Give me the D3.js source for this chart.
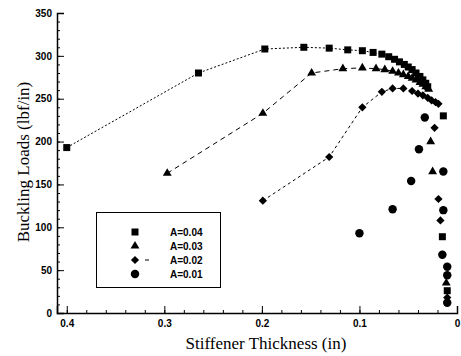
<!DOCTYPE html>
<html>
<head>
<meta charset="utf-8">
<script src="https://cdn.jsdelivr.net/npm/d3@7"></script>
<style>
  body { margin: 0; background: #fff; }
  svg { display: block; }
</style>
</head>
<body>
<div id="chart"></div>
<script>
// data
const seriesNames = ["A=0.04", "A=0.03", "A=0.02", "A=0.01"];

const thickA04 = [0.4, 0.265, 0.197, 0.157, 0.131, 0.112, 0.097, 0.086, 0.077, 0.070, 0.064, 0.059, 0.054, 0.050, 0.046, 0.042, 0.038, 0.035, 0.032, 0.030, 0.014, 0.015, 0.010];
const loadA04  = [193, 280, 308, 310, 309, 307, 306, 304, 302, 299, 296, 293, 290, 287, 284, 280, 276, 272, 268, 264, 230, 89, 26];

const thickA03 = [0.297, 0.199, 0.149, 0.117, 0.097, 0.083, 0.074, 0.066, 0.060, 0.055, 0.050, 0.046, 0.042, 0.038, 0.035, 0.032, 0.029, 0.027, 0.025, 0.011];
const loadA03  = [163, 233, 280, 285, 286, 285, 284, 282, 280, 278, 276, 274, 272, 269, 267, 264, 261, 200, 165, 35];

const thickA02 = [0.199, 0.131, 0.097, 0.077, 0.066, 0.055, 0.046, 0.040, 0.035, 0.030, 0.026, 0.022, 0.019, 0.023, 0.019, 0.017, 0.015, 0.010];
const loadA02  = [131, 182, 240, 258, 262, 262, 259, 256, 254, 251, 248, 246, 244, 216, 133, 108, 68, 18];

const thickA01 = [0.100, 0.066, 0.047, 0.039, 0.033, 0.014, 0.014, 0.015, 0.010, 0.010, 0.010];
const loadA01  = [93, 121, 154, 191, 228, 165, 120, 68, 54, 44, 12];

const yTicks = [0, 50, 100, 150, 200, 250, 300, 350];
const xTicks = [0.4, 0.3, 0.2, 0.1, 0];
const xTickLabels = ["0.4", "0.3", "0.2", "0.1", "0"];

function drawPlot() {
  const width = 461, height = 356;
  const margin = { top: 13, right: 4, bottom: 43, left: 57 };
  const boundedWidth = width - margin.left - margin.right;
  const boundedHeight = height - margin.top - margin.bottom;

  const zip = (xs, ys) => xs.map((x, i) => ({ x: x, y: ys[i] }));
  // lineTo: how many of the points the connecting line runs through
  const series = [
    { name: seriesNames[0], pts: zip(thickA04, loadA04), lineTo: 20, shape: d3.symbolSquare, size: 49, rot: 0, dash: "2,2" },
    { name: seriesNames[1], pts: zip(thickA03, loadA03), lineTo: 17, shape: d3.symbolTriangle, size: 34, rot: 0, dash: "5,4" },
    { name: seriesNames[2], pts: zip(thickA02, loadA02), lineTo: 13, shape: d3.symbolSquare, size: 34, rot: 45, dash: "3,3" },
    { name: seriesNames[3], pts: zip(thickA01, loadA01), lineTo: 0, shape: d3.symbolCircle, size: 56, rot: 0, dash: null },
  ];

  const svg = d3.select("#chart").append("svg")
      .attr("width", width)
      .attr("height", height);

  const bounds = svg.append("g")
      .attr("transform", `translate(${margin.left}, ${margin.top})`);

  const xScale = d3.scaleLinear()
    .domain([0.41, 0])
    .range([0, boundedWidth]);

  const yScale = d3.scaleLinear()
    .domain([0, 350])
    .range([boundedHeight, 0]);

  // axes
  const tickFont = "'Liberation Sans', Arial, sans-serif";

  bounds.append("g")
      .call(d3.axisLeft(yScale).tickValues(d3.range(0, 351, 10)).tickSize(-3).tickFormat(""))
      .call(g => g.select(".domain").remove());
  bounds.append("g")
      .call(d3.axisLeft(yScale).tickValues(yTicks).tickSize(-7).tickPadding(5))
      .call(g => g.select(".domain").attr("stroke-width", 1.5))
      .call(g => g.selectAll(".tick text")
        .attr("font-family", tickFont)
        .attr("font-size", 10)
        .attr("font-weight", "bold")
        .attr("fill", "#000"));

  bounds.append("g")
      .attr("transform", `translate(0, ${boundedHeight})`)
      .call(d3.axisBottom(xScale).tickValues(d3.range(0, 0.41, 0.02)).tickSize(-3).tickFormat(""))
      .call(g => g.select(".domain").remove());
  bounds.append("g")
      .attr("transform", `translate(0, ${boundedHeight})`)
      .call(d3.axisBottom(xScale).tickValues(xTicks).tickSize(-7).tickPadding(7)
        .tickFormat((d, i) => xTickLabels[i]))
      .call(g => g.select(".domain").attr("stroke-width", 1.5))
      .call(g => g.selectAll(".tick text")
        .attr("font-family", tickFont)
        .attr("font-size", 10)
        .attr("font-weight", "bold")
        .attr("fill", "#000"));

  // axis titles
  svg.append("text")
      .attr("x", 266)
      .attr("y", 349)
      .attr("text-anchor", "middle")
      .attr("font-family", "'Liberation Serif', 'Times New Roman', serif")
      .attr("font-size", 17)
      .text("Stiffener Thickness (in)");

  svg.append("text")
      .attr("transform", "translate(29, 162) rotate(-90)")
      .attr("text-anchor", "middle")
      .attr("font-family", "'Liberation Serif', 'Times New Roman', serif")
      .attr("font-size", 17)
      .text("Buckling Loads (lbf/in)");

  // lines
  const line = d3.line()
    .x(d => xScale(d.x))
    .y(d => yScale(d.y));

  bounds.append("g")
    .selectAll("path")
    .data(series.filter(s => s.dash))
    .join("path")
      .attr("fill", "none")
      .attr("stroke", "#000")
      .attr("stroke-width", 1)
      .attr("stroke-dasharray", s => s.dash)
      .attr("d", s => line(s.pts.slice(0, s.lineTo)));

  // markers
  series.forEach(s => {
    bounds.append("g")
      .selectAll("path")
      .data(s.pts)
      .join("path")
        .attr("transform", d => `translate(${xScale(d.x)}, ${yScale(d.y)}) rotate(${s.rot})`)
        .attr("d", d3.symbol(s.shape, s.size))
        .attr("fill", "#000");
  });

  // legend
  const legend = svg.append("g");
  legend.append("rect")
      .attr("x", 96.5)
      .attr("y", 212.5)
      .attr("width", 124)
      .attr("height", 75)
      .attr("fill", "#fff")
      .attr("stroke", "#000")
      .attr("stroke-width", 1);

  const rows = legend.selectAll("g.row")
    .data(series)
    .join("g")
      .attr("class", "row")
      .attr("transform", (d, i) => `translate(0, ${232 + i * 14})`);

  rows.append("path")
      .attr("transform", s => `translate(135, 0) rotate(${s.rot})`)
      .attr("d", s => d3.symbol(s.shape, s.size)())
      .attr("fill", "#000");

  rows.filter(s => s.name === "A=0.02").append("line")
      .attr("x1", 145).attr("x2", 149)
      .attr("y1", 0).attr("y2", 0)
      .attr("stroke", "#000");

  rows.append("text")
      .attr("x", 170)
      .attr("dy", "0.35em")
      .attr("font-family", tickFont)
      .attr("font-size", 10)
      .attr("font-weight", "bold")
      .text(s => s.name);
}
drawPlot();
</script>
</body>
</html>
